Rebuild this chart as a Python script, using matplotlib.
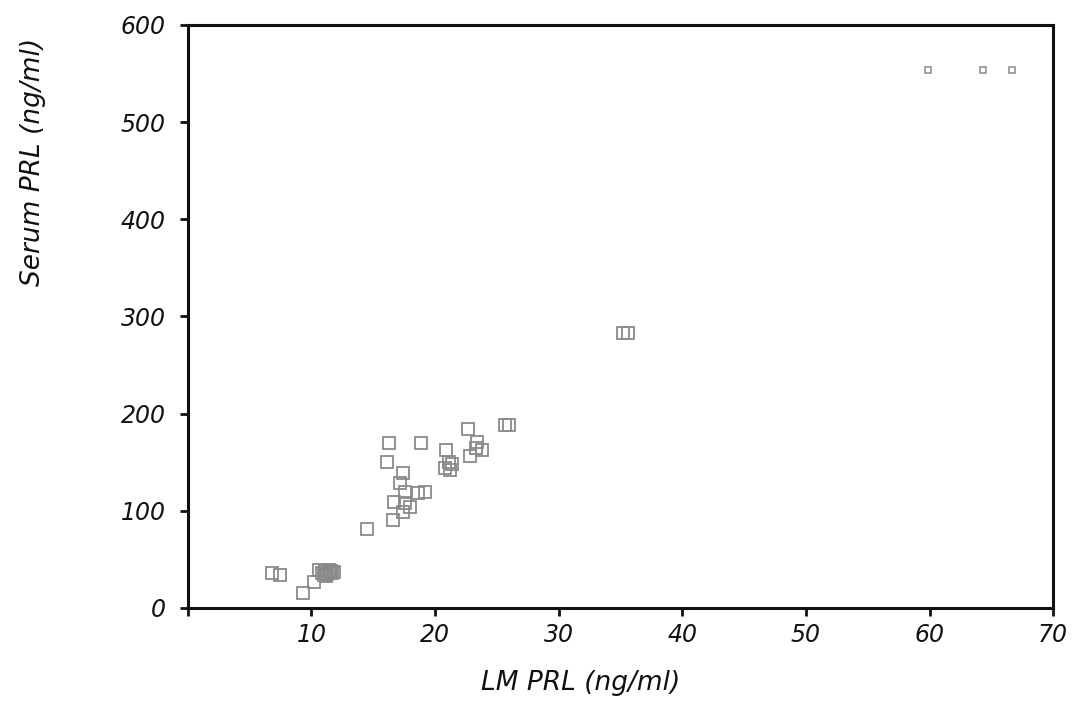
import matplotlib
matplotlib.use("Agg")
import matplotlib.pyplot as plt

# LM PRL vs serum PRL
lm_prl = [16.3, 18.9, 16.1, 17.4, 17.2, 17.6, 18.6, 19.2, 16.7, 17.6,
          18.0, 17.4, 16.6, 14.5, 20.9, 21.1, 20.8, 21.2, 21.4, 22.7,
          23.4, 23.8, 22.8, 23.3, 25.7, 26.0, 35.2, 35.6,
          6.8, 7.5, 9.3, 10.2, 10.6, 10.9, 11.1, 11.3, 11.5, 11.7,
          11.0, 11.4, 11.8, 11.2, 11.6]
serum_prl = [170, 170, 150, 139, 129, 119, 118, 119, 109, 108,
             104, 99, 91, 81, 163, 150, 144, 142, 148, 184,
             171, 163, 156, 165, 188, 188, 283, 283,
             36, 34, 15, 27, 39, 36, 38, 35, 37, 36,
             34, 39, 37, 33, 38]

# the three very high values are drawn with a smaller symbol
lm_prl_high = [59.9, 64.3, 66.7]
serum_prl_high = [554, 554, 554]

x_ticks = [10, 20, 30, 40, 50, 60, 70]
y_ticks = [0, 100, 200, 300, 400, 500, 600]

fig = plt.figure(figsize=(10.85, 7.14), dpi=100)
ax = fig.add_axes([0.173, 0.1485, 0.7977, 0.8165])

ax.plot(lm_prl, serum_prl, 's', markersize=9, markerfacecolor='none',
        markeredgecolor='#8a8a8a', markeredgewidth=1.3)
ax.plot(lm_prl_high, serum_prl_high, 's', markersize=5, markerfacecolor='none',
        markeredgecolor='#8a8a8a', markeredgewidth=1.1)

ax.set_xlim(0, 70)
ax.set_ylim(0, 600)
ax.set_xticks([0] + x_ticks)
ax.set_xticklabels([''] + [str(t) for t in x_ticks])
ax.set_yticks(y_ticks)
ax.set_yticklabels([str(t) for t in y_ticks])

for side in ['left', 'right', 'top', 'bottom']:
    ax.spines[side].set_linewidth(2.2)
    ax.spines[side].set_color('#111111')

ax.tick_params(axis='both', direction='out', length=6, width=2, color='#111111',
               labelsize=17, labelcolor='#111111')
ax.tick_params(axis='x', pad=5)
ax.tick_params(axis='y', pad=10)
for lab in ax.get_xticklabels() + ax.get_yticklabels():
    lab.set_fontstyle('italic')

fig.text(0.535, 0.043, 'LM PRL (ng/ml)', ha='center', va='center', fontsize=19,
         style='italic', color='#111111')
fig.text(0.03, 0.773, 'Serum PRL (ng/ml)', ha='center', va='center', fontsize=19,
         style='italic', rotation=90, color='#111111')

fig.savefig('out.png', dpi=100)
